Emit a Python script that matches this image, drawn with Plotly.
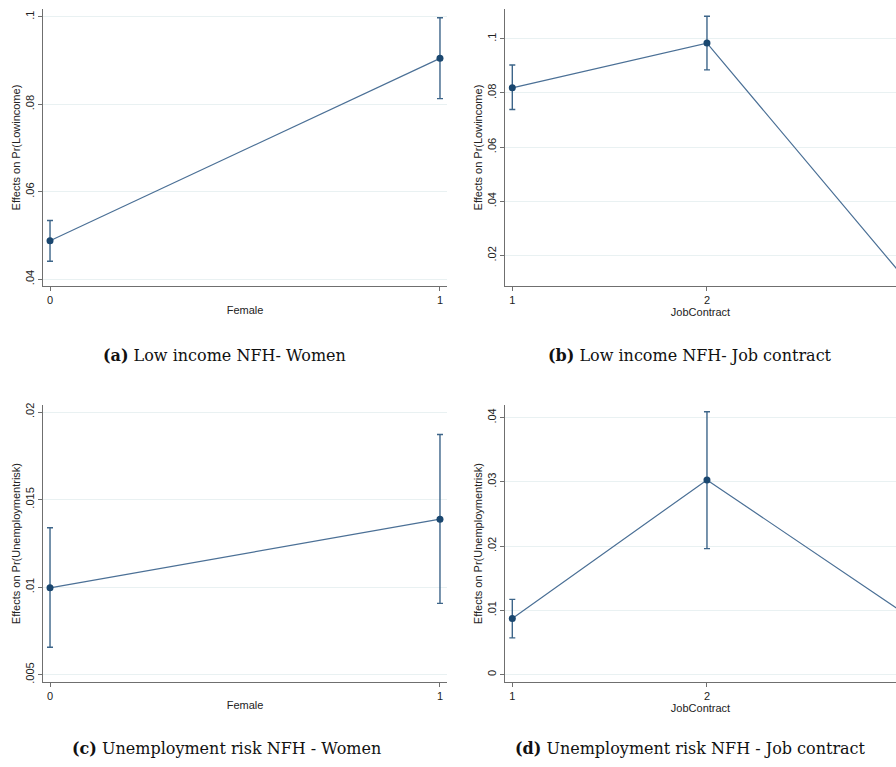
import plotly.graph_objects as go

# ---- data: marginal effects with 95% confidence bounds ----
female_x = [0, 1]
lowinc_female = [0.0488, 0.0905]
lowinc_female_lo = [0.0441, 0.0813]
lowinc_female_hi = [0.0534, 0.0998]

contract_x = [1, 2, 3]
lowinc_contract = [0.0819, 0.0984, 0.0129]
lowinc_contract_lo = [0.0739, 0.0885, 0.0090]
lowinc_contract_hi = [0.0903, 0.1083, 0.0170]

unemp_female = [0.00996, 0.01388]
unemp_female_lo = [0.00657, 0.00907]
unemp_female_hi = [0.01339, 0.01872]

unemp_contract = [0.00872, 0.0303, 0.0098]
unemp_contract_lo = [0.00572, 0.0196, 0.0070]
unemp_contract_hi = [0.0117, 0.0409, 0.0128]

# tick values and labels
yt_a = [0.04, 0.06, 0.08, 0.1]
yl_a = [".04", ".06", ".08", ".1"]
yt_b = [0.02, 0.04, 0.06, 0.08, 0.1]
yl_b = [".02", ".04", ".06", ".08", ".1"]
yt_c = [0.005, 0.01, 0.015, 0.02]
yl_c = [".005", ".01", ".015", ".02"]
yt_d = [0, 0.01, 0.02, 0.03, 0.04]
yl_d = ["0", ".01", ".02", ".03", ".04"]

captions = [
    ("(a)", "Low income NFH- Women"),
    ("(b)", "Low income NFH- Job contract"),
    ("(c)", "Unemployment risk NFH - Women"),
    ("(d)", "Unemployment risk NFH - Job contract"),
]

W, H = 896, 767
NAVY = "#1a476f"
LINE = "#4b7096"
AXIS = "#6f6f6f"
GRID = "#e9f1f2"
SANS = "Liberation Sans, Arial, sans-serif"

fig = go.Figure()


def add_panel(idx, x, est, lo, hi):
    fig.add_trace(go.Scatter(
        x=x, y=est,
        mode="lines+markers",
        line=dict(color=LINE, width=1.2),
        marker=dict(color=NAVY, size=7),
        error_y=dict(
            type="data", symmetric=False,
            array=[h - e for h, e in zip(hi, est)],
            arrayminus=[e - l for e, l in zip(est, lo)],
            color="#3d6589", thickness=1.4, width=3,
        ),
        xaxis=f"x{idx if idx > 1 else ''}",
        yaxis=f"y{idx if idx > 1 else ''}",
        showlegend=False,
        hoverinfo="x+y",
    ))


add_panel(1, female_x, lowinc_female, lowinc_female_lo, lowinc_female_hi)
add_panel(2, contract_x, lowinc_contract, lowinc_contract_lo, lowinc_contract_hi)
add_panel(3, female_x, unemp_female, unemp_female_lo, unemp_female_hi)
add_panel(4, contract_x, unemp_contract, unemp_contract_lo, unemp_contract_hi)


def px_dom_x(a, b):
    return [a / W, min(b / W, 1.0)]


def px_dom_y(top, bottom):
    return [1 - bottom / H, 1 - top / H]


def xaxis(dom, rng, vals, title, anchor):
    return dict(
        domain=dom, range=rng, tickvals=vals, ticktext=[str(v) for v in vals],
        showline=True, linecolor=AXIS, linewidth=1,
        ticks="outside", ticklen=4, tickcolor=AXIS,
        showgrid=False, zeroline=False, anchor=anchor,
        tickfont=dict(family=SANS, size=11, color="#222"),
        title=dict(text=title, standoff=0, font=dict(family=SANS, size=11, color="#222")),
    )


def yaxis(dom, rng, vals, labels, title, anchor):
    return dict(
        domain=dom, range=rng, tickvals=vals, ticktext=labels,
        tickangle=-90,
        showline=True, linecolor=AXIS, linewidth=1,
        ticks="outside", ticklen=4, tickcolor=AXIS,
        showgrid=True, gridcolor=GRID, gridwidth=1,
        zeroline=False, anchor=anchor,
        tickfont=dict(family=SANS, size=11, color="#222"),
        title=dict(text=title, standoff=0, font=dict(family=SANS, size=11, color="#222")),
    )


top = px_dom_y(6, 285)
bot = px_dom_y(405, 683.3)
left = px_dom_x(43, 447)
right = px_dom_x(505, 896)

fig.update_layout(
    width=W, height=H,
    margin=dict(l=0, r=0, t=0, b=0),
    paper_bgcolor="white", plot_bgcolor="white",
    xaxis=xaxis(left, [-0.018, 1.018], female_x, "Female", "y"),
    yaxis=yaxis(top, [0.0384, 0.1018], yt_a, yl_a, "Effects on Pr(Lowincome)", "x"),
    xaxis2=xaxis(right, [0.9625, 2.971], contract_x, "JobContract", "y2"),
    yaxis2=yaxis(top, [0.0087, 0.111], yt_b, yl_b, "Effects on Pr(Lowincome)", "x2"),
    xaxis3=xaxis(left, [-0.018, 1.018], female_x, "Female", "y3"),
    yaxis3=yaxis(bot, [0.00459, 0.02038], yt_c, yl_c, "Effects on Pr(Unemploymentrisk)", "x3"),
    xaxis4=xaxis(right, [0.9625, 2.971], contract_x, "JobContract", "y4"),
    yaxis4=yaxis(bot, [-0.00113, 0.0419], yt_d, yl_d, "Effects on Pr(Unemploymentrisk)", "x4"),
)

cap_pos = [(224, 355), (690, 355), (226, 750), (690, 750)]
for (tag, text), (cx, cy) in zip(captions, cap_pos):
    fig.add_annotation(
        xref="paper", yref="paper", x=cx / W, y=1 - cy / H,
        xanchor="center", yanchor="middle", showarrow=False,
        text=f"<b>{tag}</b> {text}",
        font=dict(family="DejaVu Serif, Liberation Serif, serif", size=16, color="#111"),
    )

fig.write_html("out.html")
